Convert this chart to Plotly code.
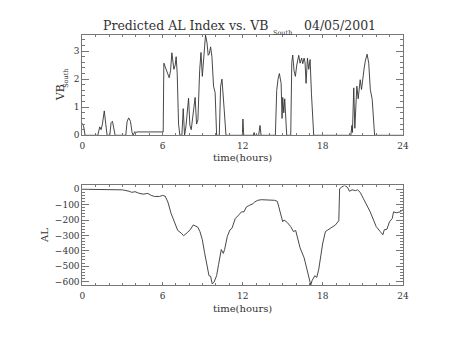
import plotly.graph_objects as go

# Southward IMF component, VB_South (time in hours, value)
vb_time = [0.0, 0.1, 0.2, 1.15, 1.3, 1.4, 1.5, 1.64, 1.75, 1.85, 2.05, 2.15, 2.25, 2.35, 2.45,
           3.25, 3.35, 3.47, 3.6, 3.72, 3.8, 3.92, 4.0, 4.1, 6.05, 6.1, 6.3, 6.5, 6.6, 6.7,
           6.85, 6.95, 7.02, 7.1, 7.2, 7.3, 7.45, 7.55, 7.65, 7.75, 7.95, 8.05, 8.15, 8.3,
           8.44, 8.55, 8.65, 8.78, 8.88, 8.98, 9.1, 9.22, 9.33, 9.42, 9.5, 9.6, 9.7, 9.82,
           9.94, 10.05, 10.25, 10.35, 10.45, 10.55, 10.62, 10.75, 11.98, 12.02, 12.08, 12.8,
           12.86, 12.92, 13.2, 13.3, 13.38, 14.45, 14.55, 14.65, 14.75, 14.88, 14.95, 15.0,
           15.08, 15.15, 15.25, 15.3, 15.6, 15.68, 15.75, 15.85, 15.95, 16.05, 16.2, 16.3,
           16.42, 16.5, 16.6, 16.67, 16.75, 16.85, 16.95, 17.05, 17.15, 17.25, 17.32, 20.1,
           20.18, 20.22, 20.28, 20.32, 20.4, 20.5, 20.55, 20.65, 20.8, 20.9, 21.0, 21.1, 21.2,
           21.32, 21.44, 21.56, 21.7, 21.8, 21.88, 24.0]
vb_value = [0.43, 0.3, 0.0, 0.0, 0.3, 0.2, 0.4, 0.87, 0.4, 0.0, 0.0, 0.45, 0.5, 0.3, 0.0,
            0.0, 0.5, 0.62, 0.5, 0.1, 0.0, 0.13, 0.1, 0.12, 0.12, 2.57, 2.3, 2.05, 2.3, 2.94,
            2.35, 2.5, 2.8, 2.2, 0.4, 0.0, 0.0, 0.95, 0.0, 0.3, 1.32, 0.35, 0.2, 0.9,
            1.35, 0.4, 0.55, 2.3, 2.95, 2.1, 2.9, 3.57, 3.3, 2.85, 2.9, 3.15, 2.8, 1.75,
            1.52, 0.0, 0.0, 1.75, 2.0, 1.5, 0.9, 0.0, 0.0, 0.58, 0.0, 0.0,
            0.1, 0.0, 0.0, 0.35, 0.0, 0.0, 1.6, 2.0, 2.2, 1.85, 0.6, 1.35,
            0.8, 1.3, 0.3, 0.0, 0.0, 2.6, 2.86, 2.3, 2.1, 2.5, 2.85, 2.57,
            2.75, 2.55, 2.75, 2.6, 1.85, 2.75, 2.35, 2.7, 1.5, 0.5, 0.0, 0.0,
            0.35, 0.1, 0.8, 1.69, 0.25, 1.2, 1.75, 1.3, 1.98, 1.63, 2.1, 2.4, 2.68,
            2.89, 2.57, 1.63, 1.28, 0.5, 0.0, 0.0]

# Predicted AL index (nT)
al_time = [0.0, 2.7, 3.0, 3.5, 3.7, 3.95, 4.2, 4.55, 4.9, 5.15, 5.4, 5.78, 6.0, 6.2, 6.4,
           6.64, 6.9, 7.14, 7.4, 7.58, 7.88, 8.1, 8.3, 8.5, 8.65, 8.8, 8.98, 9.15, 9.35,
           9.48, 9.6, 9.72, 9.85, 10.05, 10.2, 10.4, 10.55, 10.65, 10.85, 11.05, 11.2,
           11.45, 11.7, 11.91, 12.1, 12.28, 12.52, 12.77, 12.9, 13.13, 13.4, 13.9, 14.4,
           14.6, 14.8, 15.0, 15.1, 15.35, 15.6, 15.8, 15.97, 16.1, 16.3, 16.6, 16.8, 16.97,
           17.1, 17.2, 17.4, 17.55, 17.7, 17.85, 18.0, 18.2, 18.45, 18.7, 18.95, 19.2,
           19.26, 19.4, 19.63, 19.85, 20.0, 20.2, 20.45, 20.6, 20.8, 21.05, 21.3, 21.55,
           21.8, 22.0, 22.3, 22.5, 22.6, 22.8, 23.0, 23.2, 23.3, 23.5, 23.8, 24.0]
al_value = [0, 0, -4, -13, -20, -16, -25, -32, -27, -40, -47, -47, -40, -45, -83,
            -157, -221, -268, -285, -302, -280, -260, -232, -243, -247, -275, -328, -413, -519,
            -562, -566, -615, -605, -562, -488, -392, -417, -392, -307, -264, -254,
            -190, -168, -147, -147, -115, -104, -94, -83, -72, -68, -72, -72,
            -79, -147, -211, -200, -217, -243, -275, -268, -307, -381, -445, -519, -583,
            -622, -594, -562, -573, -519, -434, -349, -275, -260, -249, -232, -204,
            3, 13, 25, 13, -13, -4, -9, -4, -20, -62, -104, -147,
            -200, -243, -275, -296, -264, -260, -211, -190, -147, -153, -147, -132]

x_ticks = [0, 6, 12, 18, 24]

W, H = 454, 341
FONT = "DejaVu Serif"
INK = "#333333"
AXC = "#777777"


def px(x):
    return x / W


def py(y):
    return 1 - y / H


fig = go.Figure()
fig.add_trace(go.Scatter(x=vb_time, y=vb_value, mode="lines",
                         line=dict(color=INK, width=0.9), xaxis="x", yaxis="y"))
fig.add_trace(go.Scatter(x=al_time, y=al_value, mode="lines",
                         line=dict(color=INK, width=0.9), xaxis="x2", yaxis="y2"))

xcommon = dict(range=[0, 24], tickvals=x_ticks, showgrid=False, zeroline=False,
               showline=True, linecolor=AXC, linewidth=1, mirror="ticks",
               ticks="inside", ticklen=3, tickcolor=AXC, tickwidth=1,
               minor=dict(dtick=1, ticks="inside", ticklen=2, tickcolor=AXC),
               tickfont=dict(family=FONT, size=9, color=INK),
               ticklabelstandoff=2)
ycommon = dict(showgrid=False, zeroline=False, showline=True, linecolor=AXC,
               linewidth=1, mirror="ticks", ticks="inside", ticklen=7,
               tickcolor=AXC, tickwidth=1,
               tickfont=dict(family=FONT, size=9, color=INK))

fig.update_layout(
    width=W, height=H,
    margin=dict(l=0, r=0, t=0, b=0),
    paper_bgcolor="white", plot_bgcolor="white",
    showlegend=False,
    xaxis=dict(domain=[px(81), px(408)], anchor="y", **xcommon),
    yaxis=dict(domain=[py(136.7), py(34.7)], anchor="x", range=[0, 3.57],
               tickvals=[0, 1, 2, 3],
               minor=dict(dtick=0.2, ticks="inside", ticklen=3, tickcolor=AXC),
               **ycommon),
    xaxis2=dict(domain=[px(81), px(408)], anchor="y2", **xcommon),
    yaxis2=dict(domain=[py(289), py(187.7)], anchor="x2", range=[-622, 25],
                tickvals=[0, -100, -200, -300, -400, -500, -600],
                minor=dict(dtick=20, ticks="inside", ticklen=3, tickcolor=AXC),
                **ycommon),
)

ann = []
# title pieces
ann.append(dict(text="Predicted AL Index vs. VB", x=px(273.5), y=py(25),
                xanchor="right", yanchor="middle",
                font=dict(family=FONT, size=12.5, color=INK)))
ann.append(dict(text="South", x=px(273.5), y=py(32.5), xanchor="left",
                yanchor="middle", font=dict(family=FONT, size=6.5, color=INK)))
ann.append(dict(text="04/05/2001", x=px(305), y=py(25), xanchor="left",
                yanchor="middle", font=dict(family=FONT, size=12.5, color=INK)))
# x axis titles
for yy in (159, 313):
    ann.append(dict(text="time(hours)", x=px(244.5), y=py(yy), xanchor="center",
                    yanchor="middle", borderpad=0,
                    font=dict(family=FONT, size=10, color=INK)))
# y axis titles
ann.append(dict(text="VB", x=px(59.5), y=py(93.5), textangle=-90,
                xanchor="center", yanchor="middle",
                font=dict(family=FONT, size=11, color=INK)))
ann.append(dict(text="South", x=px(63.5), y=py(79), textangle=-90,
                xanchor="center", yanchor="middle",
                font=dict(family=FONT, size=6.5, color=INK)))
ann.append(dict(text="AL", x=px(42.5), y=py(238.5), textangle=-90,
                xanchor="center", yanchor="middle",
                font=dict(family=FONT, size=10, color=INK)))

for a in ann:
    a.update(xref="paper", yref="paper", showarrow=False)
fig.update_layout(annotations=ann)

fig.write_html("out.html")
